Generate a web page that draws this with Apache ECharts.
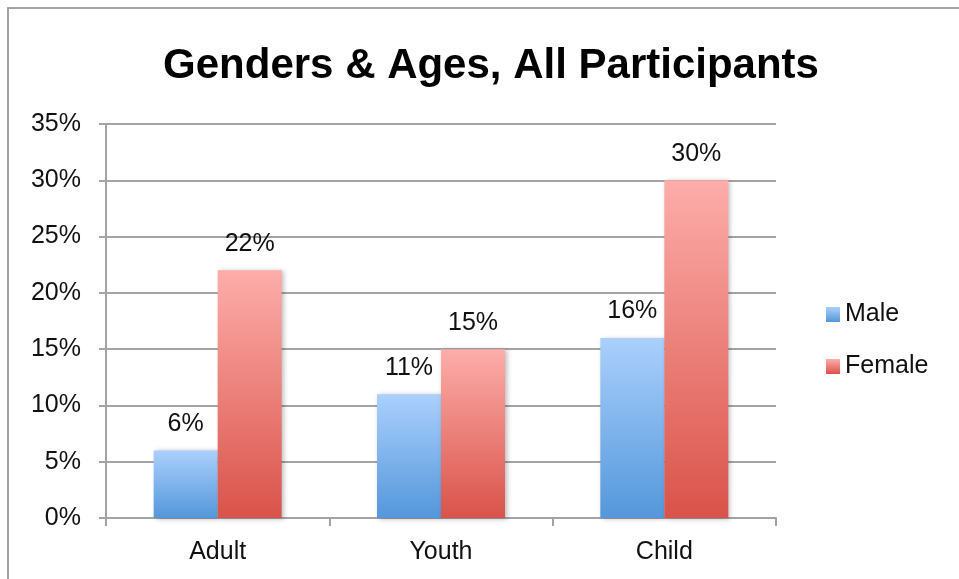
<!DOCTYPE html>
<html>
<head>
<meta charset="utf-8">
<script src="https://cdn.jsdelivr.net/npm/echarts@6/dist/echarts.min.js"></script>
<style>
  html, body { margin: 0; padding: 0; background: #fff; }
  #chart { width: 959px; height: 579px; }
</style>
</head>
<body>
<div id="chart"></div>
<script>
const categories = ['Adult', 'Youth', 'Child'];
const male = [6, 11, 16];
const female = [22, 15, 30];
const yTicks = [0, 5, 10, 15, 20, 25, 30, 35];

const font = '"Liberation Sans", Arial, Helvetica, sans-serif';
const gray = '#a3a3a3';

const grad = (top, bottom) => new echarts.graphic.LinearGradient(0, 0, 0, 1, [
  { offset: 0, color: top },
  { offset: 1, color: bottom },
]);

const chart = echarts.init(document.getElementById('chart'), null, { renderer: 'canvas' });

const barStyle = {
  shadowColor: 'rgba(0,0,0,0.28)',
  shadowBlur: 5,
  shadowOffsetX: 2,
  shadowOffsetY: 1,
};

const label = {
  show: true,
  position: 'top',
  distance: 14,
  formatter: '{c}%',
  color: '#111',
  fontFamily: font,
  fontSize: 25,
};

chart.setOption({
  backgroundColor: '#fff',
  animation: false,
  title: {
    text: 'Genders & Ages, All Participants',
    left: 486,
    textAlign: 'center',
    top: 40,
    textStyle: { fontFamily: font, fontWeight: 'bold', fontSize: 42, color: '#000' },
  },
  graphic: [{
    type: 'rect',
    shape: { x: 8, y: 8, width: 1000, height: 1000 },
    style: { fill: 'none', stroke: gray, lineWidth: 2 },
    silent: true,
  }],
  legend: {
    orient: 'vertical',
    left: 821,
    top: 297,
    itemWidth: 14,
    itemHeight: 15,
    itemGap: 27,
    icon: 'rect',
    textStyle: { fontFamily: font, fontSize: 25, color: '#111' },
    data: ['Male', 'Female'],
  },
  grid: { left: 106, right: 183, top: 124, bottom: 61 },
  xAxis: {
    type: 'category',
    data: categories,
    axisLine: { lineStyle: { color: gray, width: 2 } },
    axisTick: { show: true, length: 8, lineStyle: { color: gray, width: 2 } },
    axisLabel: { color: '#111', fontFamily: font, fontSize: 25, margin: 22 },
  },
  yAxis: {
    type: 'value',
    min: 0,
    max: 35,
    interval: 5,
    axisLine: { show: true, lineStyle: { color: gray, width: 2 } },
    axisTick: { show: true, length: 7, lineStyle: { color: gray, width: 2 } },
    splitLine: { lineStyle: { color: gray, width: 2 } },
    axisLabel: {
      color: '#111', fontFamily: font, fontSize: 25, margin: 25,
      formatter: v => yTicks.includes(v) ? v + '%' : '',
    },
  },
  series: [
    {
      name: 'Male',
      type: 'bar',
      data: male,
      barWidth: 64,
      barGap: '0%',
      itemStyle: Object.assign({ color: grad('#abd0fc', '#5497db') }, barStyle),
      label,
    },
    {
      name: 'Female',
      type: 'bar',
      data: female,
      barWidth: 64,
      barGap: '0%',
      itemStyle: Object.assign({ color: grad('#fdadaa', '#d9534a') }, barStyle),
      label,
    },
  ],
});
</script>
</body>
</html>
